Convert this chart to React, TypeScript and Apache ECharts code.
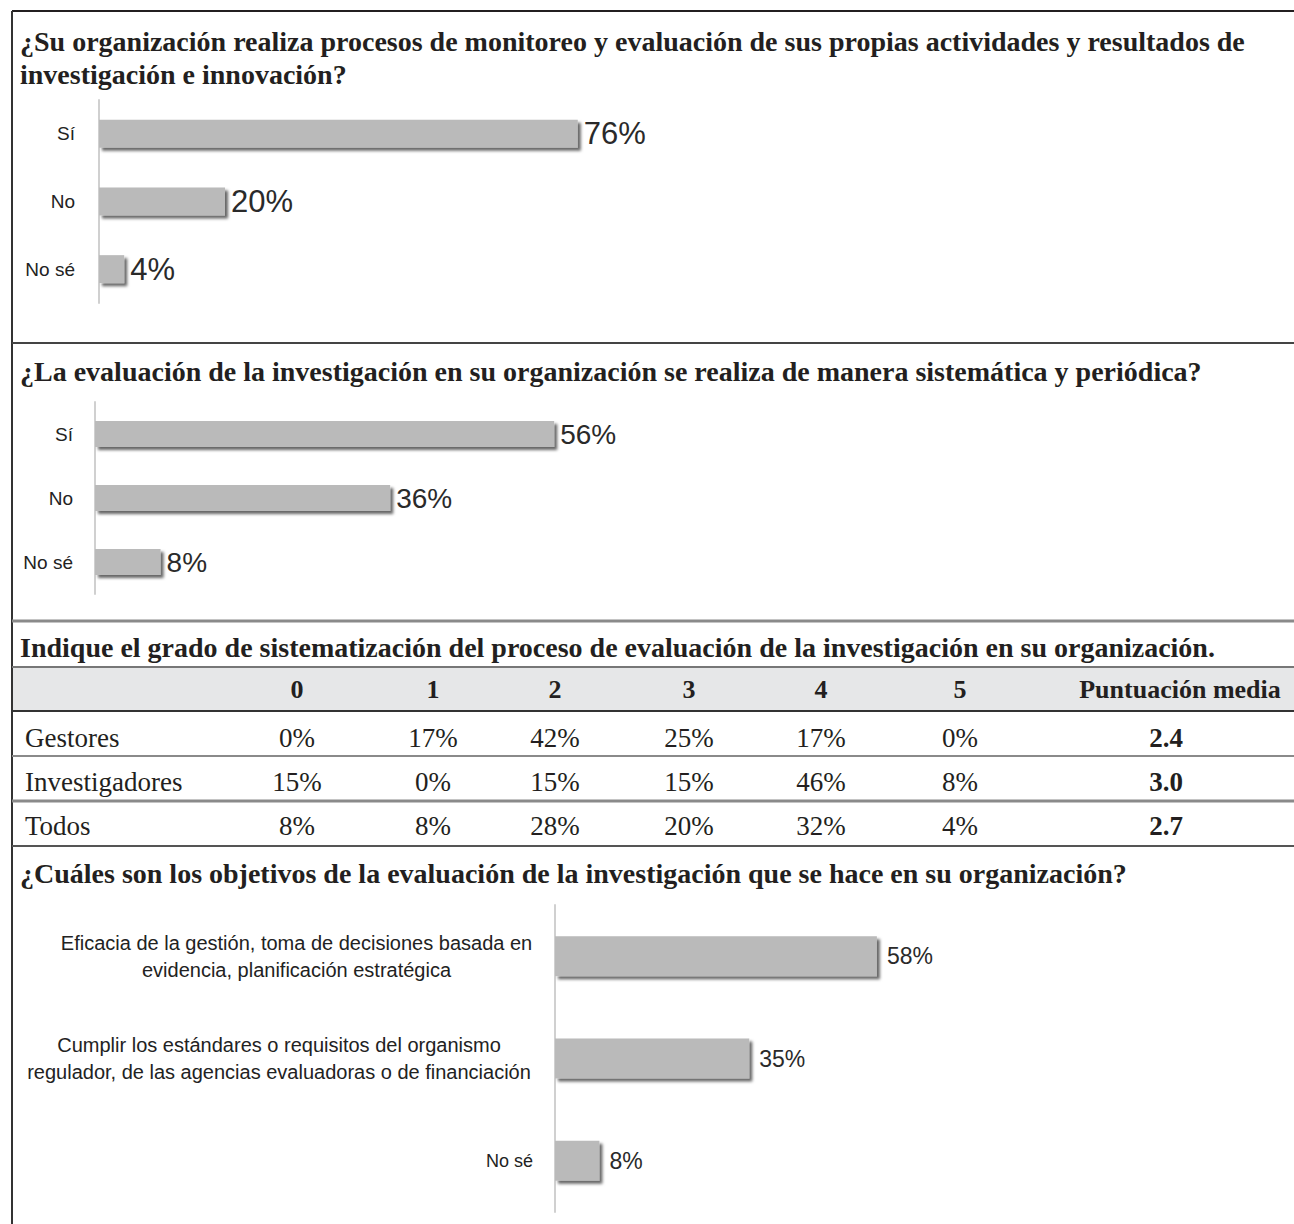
import React, { useEffect, useRef } from "react";
import * as echarts from "echarts";

const title1 = [
  "¿Su organización realiza procesos de monitoreo y evaluación de sus propias actividades y resultados de",
  "investigación e innovación?",
];
const title2 = "¿La evaluación de la investigación en su organización se realiza de manera sistemática y periódica?";
const title3 = "Indique el grado de sistematización del proceso de evaluación de la investigación en su organización.";
const title4 = "¿Cuáles son los objetivos de la evaluación de la investigación que se hace en su organización?";

const q1Categories = ["Sí", "No", "No sé"];
const q1Values = [76, 20, 4];
const q2Categories = ["Sí", "No", "No sé"];
const q2Values = [56, 36, 8];
const q4Categories = [
  "Eficacia de la gestión, toma de decisiones basada en\nevidencia, planificación estratégica",
  "Cumplir los estándares o requisitos del organismo\nregulador, de las agencias evaluadoras o de financiación",
  "No sé",
];
const q4Values = [58, 35, 8];

const tableColumns = ["0", "1", "2", "3", "4", "5"];
const tableMeanHeader = "Puntuación media";
const tableRows = ["Gestores", "Investigadores", "Todos"];
const tableValues = [
  [0, 17, 42, 25, 17, 0],
  [15, 0, 15, 15, 46, 8],
  [8, 8, 28, 20, 32, 4],
];
const tableMeans = ["2.4", "3.0", "2.7"];

const SANS = "'Liberation Sans', Arial, sans-serif";
const SERIF = "'Liberation Serif', 'Times New Roman', serif";

const colX = [297, 433, 555, 689, 821, 960];
const meanHeaderX = 1180;
const meanX = 1166;
const rowY = [738, 782, 826];

function barSeries(idx: number, data: number[], barWidth: number, fontSize: number, distance: number) {
  return {
    type: "bar",
    xAxisIndex: idx,
    yAxisIndex: idx,
    data,
    barWidth,
    itemStyle: {
      color: "#bababa",
      shadowColor: "rgba(0,0,0,0.6)",
      shadowBlur: 3,
      shadowOffsetX: 3,
      shadowOffsetY: 3,
    },
    label: {
      show: true,
      position: "right",
      distance,
      formatter: "{c}%",
      fontSize,
      color: "#2a2a2a",
      fontFamily: SANS,
    },
  };
}

function catAxis(idx: number, data: string[], fontSize: number, margin: number, extra: any = {}) {
  return {
    gridIndex: idx,
    type: "category",
    data,
    inverse: true,
    axisLine: { show: true, lineStyle: { color: "#d0d0d0", width: 2 } },
    axisTick: { show: false },
    axisLabel: { margin, fontSize, color: "#222", fontFamily: SANS, ...extra },
  };
}

export default function App() {
  const ref = useRef<HTMLDivElement>(null);
  useEffect(() => {
    if (!ref.current) return;
    const chart = echarts.init(ref.current, undefined, { renderer: "svg" });

    const graphic: any[] = [];
    const line = (x1: number, y1: number, x2: number, y2: number, color: string, w: number) =>
      graphic.push({ type: "line", shape: { x1, y1, x2, y2 }, style: { stroke: color, lineWidth: w }, z: 10 });
    const text = (t: string, x: number, y: number, size: number, bold: boolean, align = "left", family = SERIF) =>
      graphic.push({
        type: "text",
        x,
        y,
        style: {
          text: t,
          fontSize: size,
          fontWeight: bold ? "bold" : "normal",
          fontFamily: family,
          fill: "#231f20",
          align,
          verticalAlign: "middle",
        },
        z: 11,
      });

    // header row background
    graphic.push({ type: "rect", shape: { x: 12, y: 667, width: 1282, height: 44 }, style: { fill: "#e6e7e8" }, z: 1 });

    // borders and separators
    line(12, 11, 1294, 11, "#231f20", 2);
    line(12, 11, 12, 1224, "#333", 2);
    line(12, 343, 1294, 343, "#444", 2);
    line(12, 621, 1294, 621, "#8a8a8a", 3);
    line(12, 667, 1294, 667, "#777", 2);
    line(12, 711, 1294, 711, "#333", 2);
    line(12, 756, 1294, 756, "#8a8a8a", 2);
    line(12, 801, 1294, 801, "#8a8a8a", 3);
    line(12, 846, 1294, 846, "#555", 2);

    // titles
    text(title1[0], 20, 41, 28, true);
    text(title1[1], 20, 74, 28, true);
    text(title2, 20, 371, 28, true);
    text(title3, 20, 647, 28, true);
    text(title4, 20, 873, 28, true);

    // table
    tableColumns.forEach((c, i) => text(c, colX[i], 689, 26, true, "center"));
    text(tableMeanHeader, meanHeaderX, 689, 26, true, "center");
    tableRows.forEach((r, ri) => {
      text(r, 25, rowY[ri], 27, false);
      tableValues[ri].forEach((v, ci) => text(v + "%", colX[ci], rowY[ri], 27, false, "center"));
      text(tableMeans[ri], meanX, rowY[ri], 27, true, "center");
    });

    const option: any = {
      animation: false,
      grid: [
        { left: 99, top: 100, width: 630, height: 203 },
        { left: 95, top: 402, width: 820, height: 192 },
        { left: 555, top: 905, width: 555, height: 307 },
      ],
      xAxis: [0, 1, 2].map((i) => ({ gridIndex: i, type: "value", min: 0, max: 100, show: false })),
      yAxis: [
        catAxis(0, q1Categories, 19, 24),
        catAxis(1, q2Categories, 19, 22),
        catAxis(2, q4Categories, 18, 22, {
          lineHeight: 27,
          formatter: (v: string) => {
            if (v.indexOf("\n") < 0) return v;
            const parts = v.split("\n");
            const key = parts[1].length > 45 ? "b" : "a";
            return parts.map((p) => `{${key}|${p}}`).join("\n");
          },
          rich: {
            a: { width: 473, align: "center", fontSize: 20, fontFamily: SANS, color: "#222", lineHeight: 27 },
            b: { width: 508, align: "center", fontSize: 20, fontFamily: SANS, color: "#222", lineHeight: 27 },
          },
        }),
      ],
      series: [
        barSeries(0, q1Values, 28, 31, 6),
        barSeries(1, q2Values, 26, 28, 6),
        barSeries(2, q4Values, 40, 23, 10),
      ],
      graphic,
    };
    chart.setOption(option);
    return () => chart.dispose();
  }, []);
  return (
    <div
      ref={ref}
      style={{ position: "absolute", left: 0, top: 0, width: 1294, height: 1224, background: "#fff" }}
    />
  );
}
